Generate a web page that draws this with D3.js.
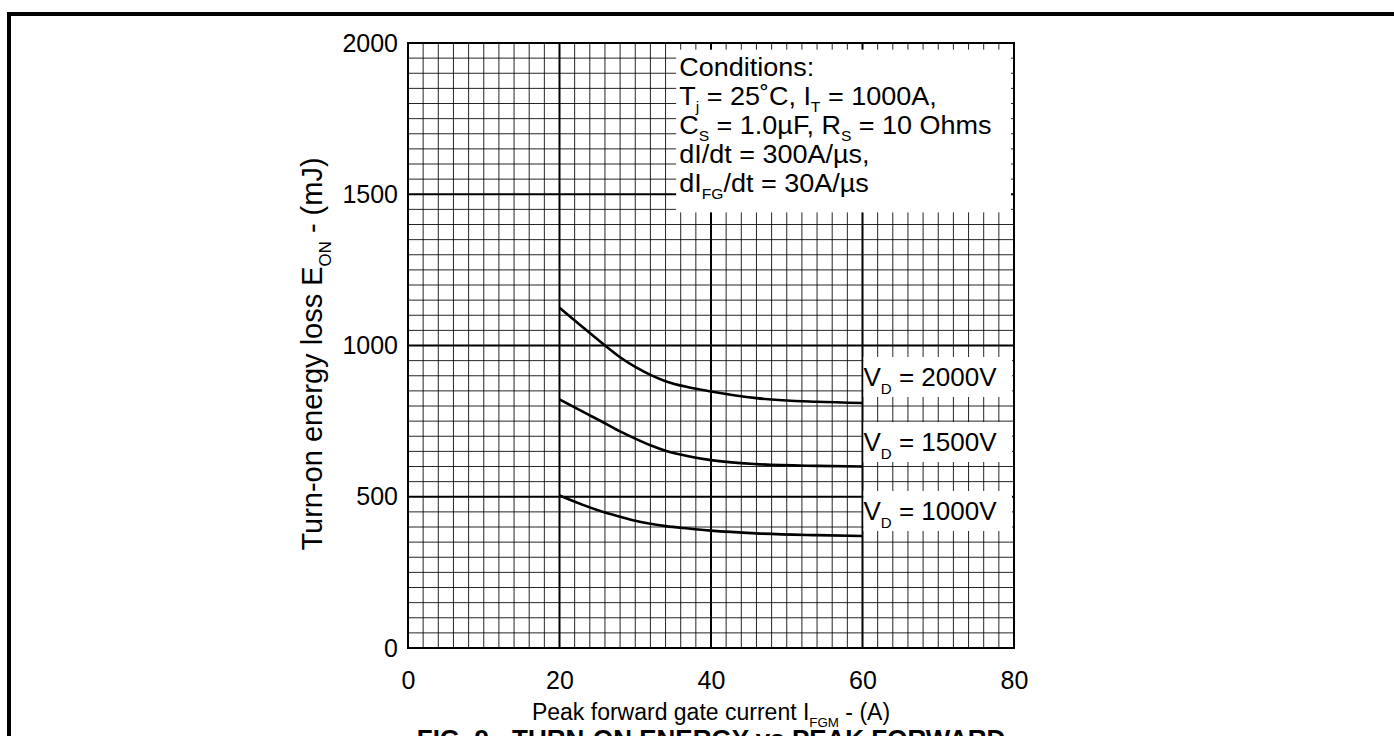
<!DOCTYPE html>
<html>
<head>
<meta charset="utf-8">
<script src="https://cdn.jsdelivr.net/npm/d3@7"></script>
<style>
    body { margin: 0; background: #fff; }
    svg text { font-family: "Liberation Sans", Arial, Helvetica, sans-serif; fill: #000; }
</style>
</head>
<body>
<svg id="chart" width="1394" height="736"></svg>
<script>
// values (A -> mJ)
const gateCurrent = [20, 23, 26, 28, 30, 32, 34, 37, 40, 46, 54, 60];
const eon2000 = [1125, 1062, 1000, 961, 929, 903, 882, 862, 848, 826, 814, 810];
const eon1500 = [822, 782, 743, 716, 692, 670, 652, 634, 621, 608, 602, 600];
const eon1000 = [504, 474, 448, 434, 421, 411, 403, 395, 388, 379, 373, 370];

const seriesNames = ['2000V', '1500V', '1000V'];
const seriesValues = [eon2000, eon1500, eon1000];
const labelLevels = [896, 681, 453];   // where the V_D boxes sit (mJ)

const xTicks = [0, 20, 40, 60, 80];
const yTicks = [0, 500, 1000, 1500, 2000];

const conditionLines = [
    [['Conditions:']],
    [['T'], ['j', 1], [' = 25˚C, I'], ['T', 1], [' = 1000A,']],
    [['C'], ['S', 1], [' = 1.0µF, R'], ['S', 1], [' = 10 Ohms']],
    [['dI/dt = 300A/µs,']],
    [['dI'], ['FG', 1], ['/dt = 30A/µs']]
];

const margin = {left: 408, top: 43, right: 380, bottom: 88};
const width = 1394 - margin.left - margin.right;
const height = 736 - margin.top - margin.bottom;
const tickSize = 25;
const yTitleSize = 29;
const xTitleSize = 23;
const condSize = 25;
const vdSize = 26;

const svg = d3.select('#chart');

// outer frame, runs off the right and bottom of the picture
svg.append('rect')
    .attr('x', 9)
    .attr('y', 14)
    .attr('width', 1500)
    .attr('height', 900)
    .attr('fill', 'none')
    .attr('stroke', '#000')
    .attr('stroke-width', 4);

const g = svg.append('g')
    .attr('transform', `translate(${margin.left},${margin.top})`);

const x = d3.scaleLinear().domain([0, 80]).range([0, width]);
const y = d3.scaleLinear().domain([0, 2000]).range([height, 0]);

// grid
const grid = g.append('g').attr('class', 'grid');
grid.selectAll('line.vx')
    .data(d3.range(0, 81, 2))
    .enter()
    .append('line')
    .attr('x1', d => x(d))
    .attr('x2', d => x(d))
    .attr('y1', 0)
    .attr('y2', height)
    .attr('stroke', '#000')
    .attr('stroke-width', d => d % 20 === 0 ? 2 : 1)
    .attr('stroke-opacity', d => d % 20 === 0 ? 1 : 0.85);
grid.selectAll('line.hy')
    .data(d3.range(0, 2001, 50))
    .enter()
    .append('line')
    .attr('x1', 0)
    .attr('x2', width)
    .attr('y1', d => y(d))
    .attr('y2', d => y(d))
    .attr('stroke', '#000')
    .attr('stroke-width', d => d % 500 === 0 ? 2 : 1)
    .attr('stroke-opacity', d => d % 500 === 0 ? 1 : 0.85);

g.append('rect')
    .attr('width', width)
    .attr('height', height)
    .attr('fill', 'none')
    .attr('stroke', '#000')
    .attr('stroke-width', 2);

// axes, labels only
const yAxis = g.append('g')
    .call(d3.axisLeft(y).tickValues(yTicks).tickFormat(d3.format('d')).tickSize(0).tickPadding(10));
const xAxis = g.append('g')
    .attr('transform', `translate(0,${height})`)
    .call(d3.axisBottom(x).tickValues(xTicks).tickFormat(d3.format('d')).tickSize(0).tickPadding(23));
[xAxis, yAxis].forEach(a => {
    a.select('.domain').remove();
    a.selectAll('text')
        .attr('font-size', tickSize)
        .attr('font-family', null)
        .attr('fill', '#000');
});

// curves
const line = d3.line()
    .x((d, i) => x(gateCurrent[i]))
    .y(d => y(d))
    .curve(d3.curveMonotoneX);

g.selectAll('path.curve')
    .data(seriesValues)
    .enter()
    .append('path')
    .attr('class', 'curve')
    .attr('d', line)
    .attr('fill', 'none')
    .attr('stroke', '#000')
    .attr('stroke-width', 2.6);

// text made of normal and subscript pieces
function addParts(t, parts, size) {
    let shifted = false;
    const shift = size * 0.3;
    parts.forEach(p => {
        const sub = p[1] === 1;
        let dy = 0;
        if (sub && !shifted) { dy = shift; shifted = true; }
        if (!sub && shifted) { dy = -shift; shifted = false; }
        t.append('tspan')
            .attr('font-size', sub ? size * 0.58 : size)
            .attr('dy', dy)
            .text(p[0]);
    });
}

// V_D labels on white boxes
const vLabels = g.selectAll('g.vlabel')
    .data(seriesNames)
    .enter()
    .append('g')
    .attr('class', 'vlabel');
vLabels.append('rect')
    .attr('x', x(60) + 1)
    .attr('y', (d, i) => y(labelLevels[i]) - 20)
    .attr('width', x(80) - x(60) - 3)
    .attr('height', 40)
    .attr('fill', '#fff');
vLabels.append('text')
    .attr('x', x(60) + 1)
    .attr('y', (d, i) => y(labelLevels[i]) + 9)
    .each(function (d) {
        addParts(d3.select(this), [['V'], ['D', 1], [' = ' + d]], vdSize);
    });

// conditions box
g.append('rect')
    .attr('x', x(35.4))
    .attr('y', y(1978))
    .attr('width', x(80) - x(35.4) - 3)
    .attr('height', y(1440) - y(1978))
    .attr('fill', '#fff');
const cond = g.append('g')
    .attr('transform', `translate(${x(35.8)},0) scale(1.08,1)`);
cond.selectAll('text.cond')
    .data(conditionLines)
    .enter()
    .append('text')
    .attr('class', 'cond')
    .attr('x', 0)
    .attr('y', (d, i) => 33 + i * 29)
    .each(function (parts) {
        addParts(d3.select(this), parts, condSize);
    });

// axis titles
svg.append('text')
    .attr('x', margin.left + width / 2)
    .attr('y', 720)
    .attr('text-anchor', 'middle')
    .each(function () {
        addParts(d3.select(this), [['Peak forward gate current I'], ['FGM', 1], [' - (A)']], xTitleSize);
    });

svg.append('text')
    .attr('transform', 'translate(322,354) rotate(-90)')
    .attr('text-anchor', 'middle')
    .each(function () {
        addParts(d3.select(this), [['Turn-on energy loss E'], ['ON', 1], [' - (mJ)']], yTitleSize);
    });

// figure caption, mostly below the visible area
svg.append('text')
    .attr('x', margin.left + width / 2)
    .attr('y', 748)
    .attr('text-anchor', 'middle')
    .attr('font-size', 26)
    .attr('font-weight', 'bold')
    .text('FIG. 9 - TURN-ON ENERGY vs PEAK FORWARD');
</script>
</body>
</html>
